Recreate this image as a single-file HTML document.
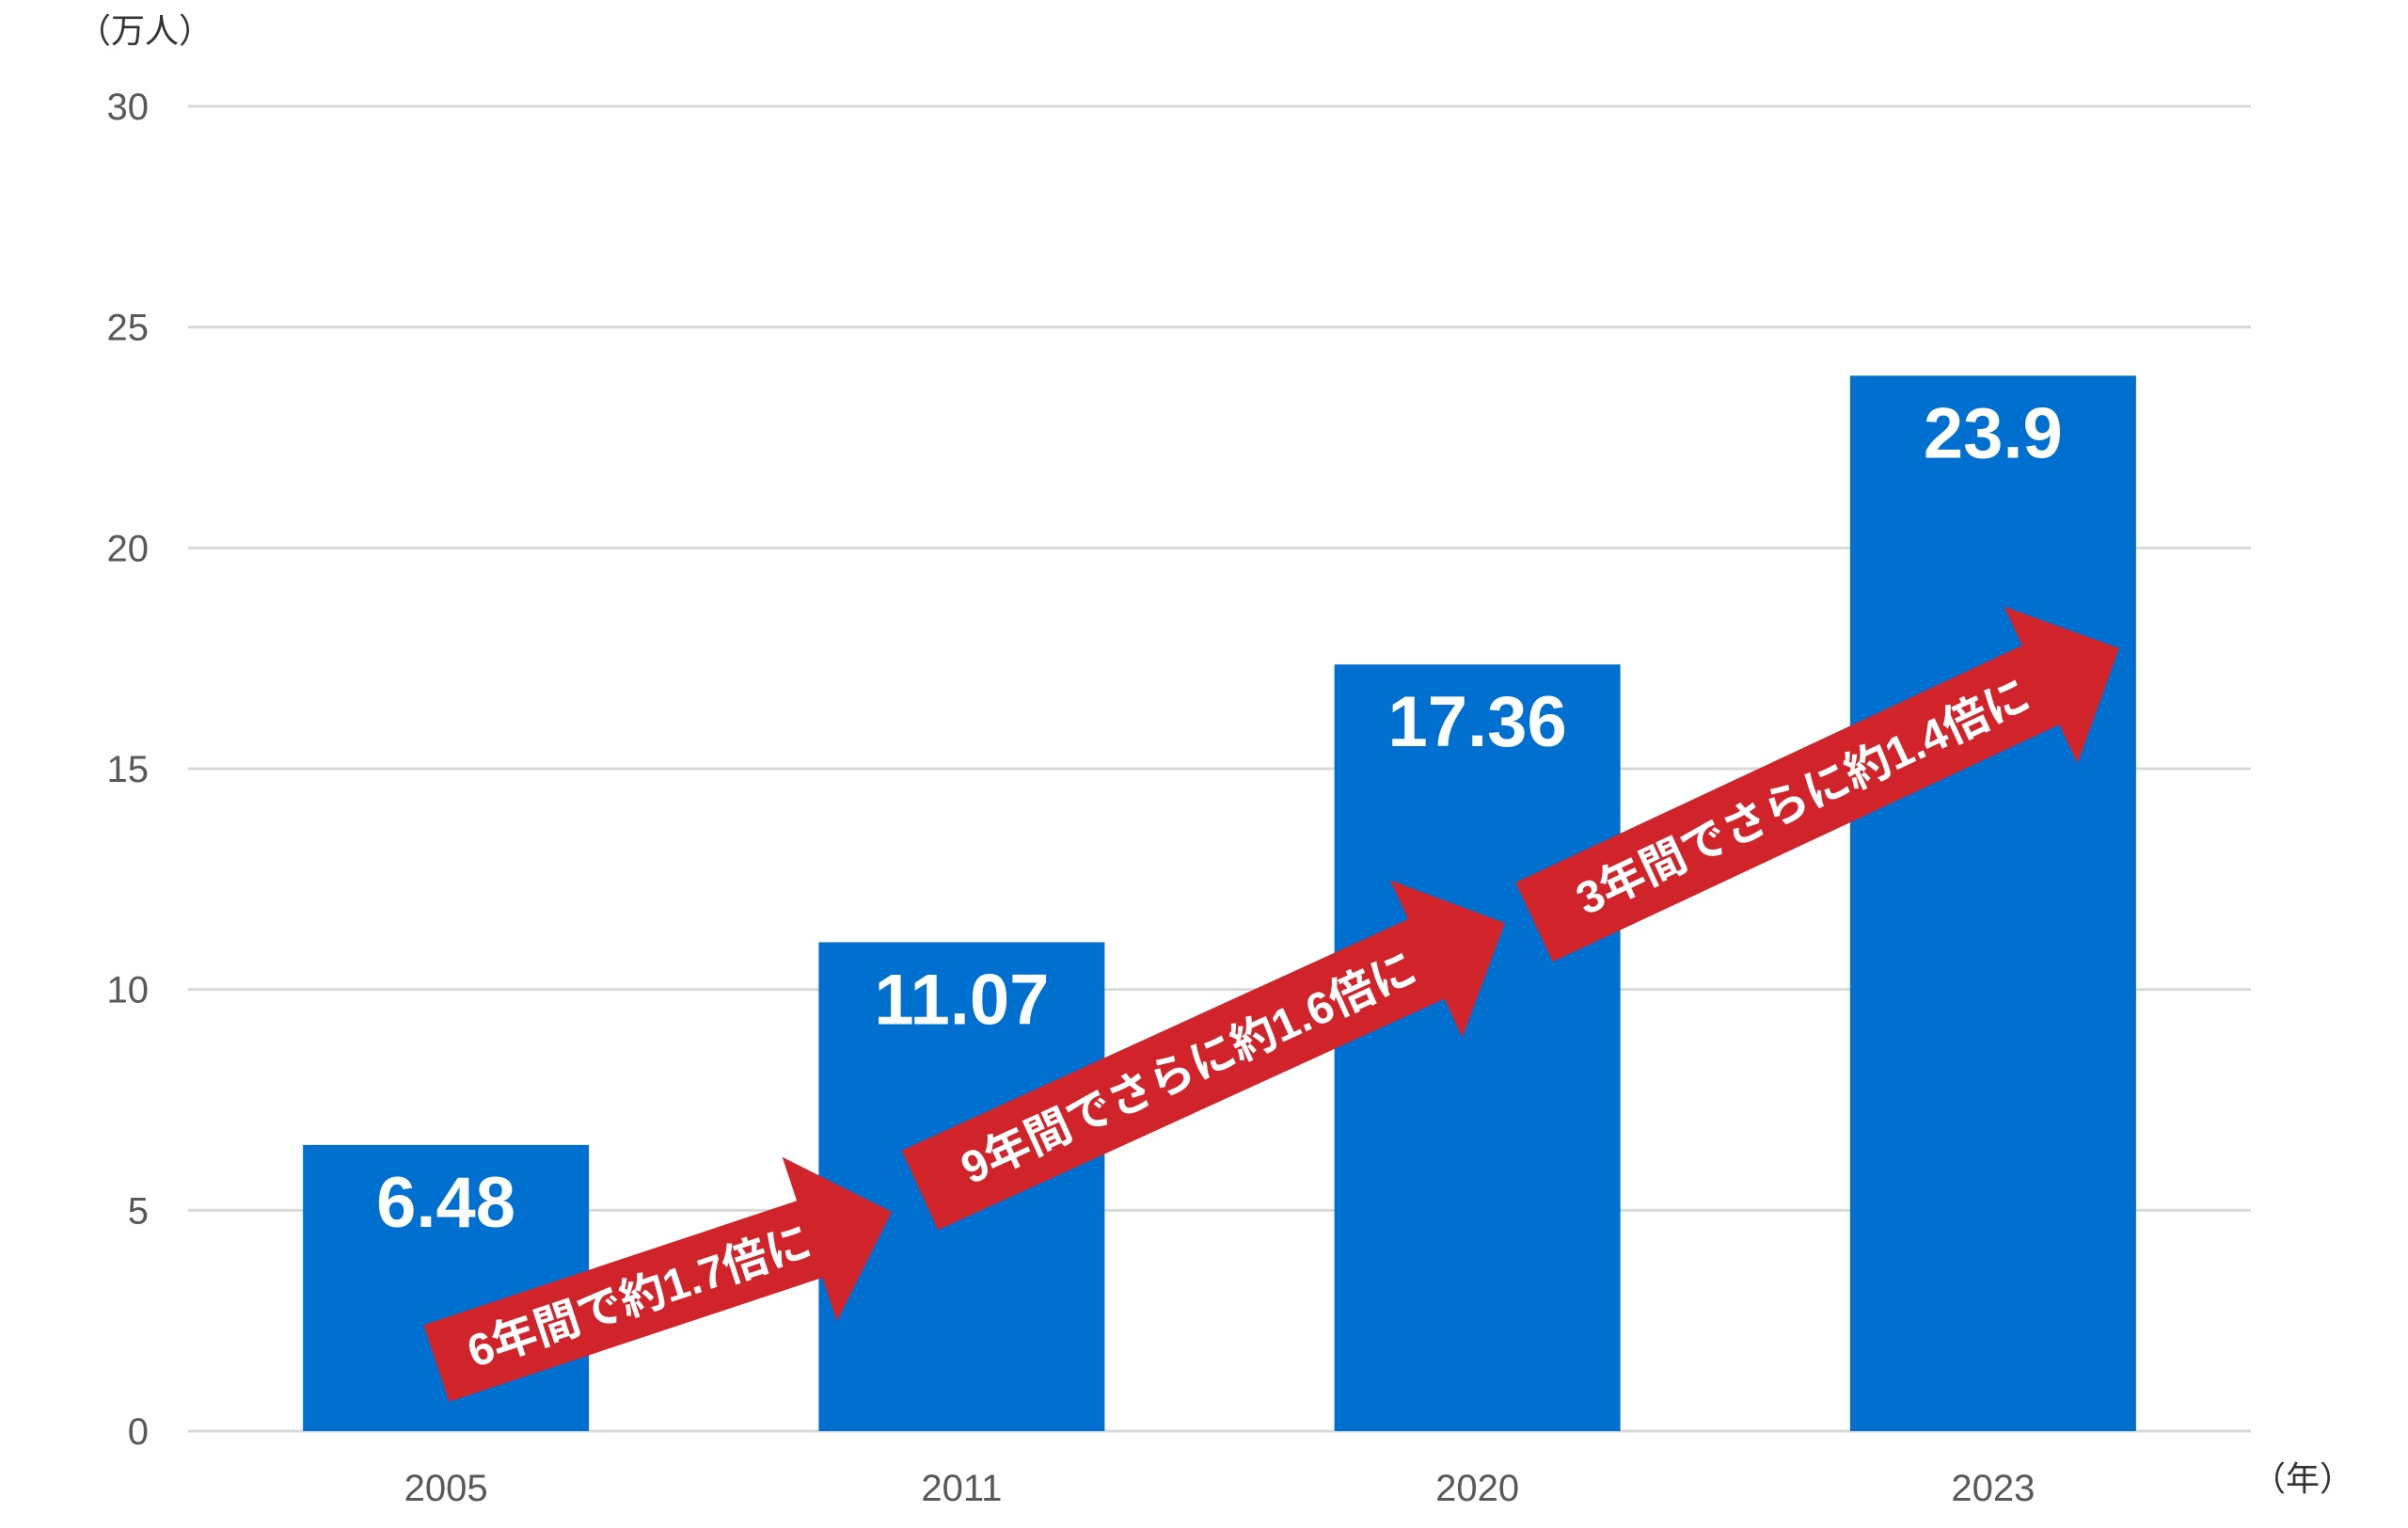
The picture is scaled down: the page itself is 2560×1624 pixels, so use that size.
<!DOCTYPE html>
<html><head><meta charset="utf-8"><style>
html,body{margin:0;padding:0;background:#fff;}
svg{display:block;font-family:"Liberation Sans","Noto Sans CJK JP",sans-serif;}
</style></head><body>
<svg id="chart" width="2560" height="1624" viewBox="0 0 2560 1624" xmlns="http://www.w3.org/2000/svg">
<text x="82" y="45" font-size="36" fill="#333" font-family="Liberation Sans, Noto Sans CJK JP, sans-serif">（万人）</text>
<text x="2394" y="1584" font-size="36" fill="#333">（年）</text>
<g id="grid"></g>
<g id="bars"></g>
<g id="arrows"></g>
</svg>
<script>
const categories = ["2005","2011","2020","2023"];
const values = [6.48, 11.07, 17.36, 23.9];
const valueLabels = ["6.48","11.07","17.36","23.9"];
const yTicks = [0,5,10,15,20,25,30];
const arrowTexts = ["6年間で約1.7倍に","9年間でさらに約1.6倍に","3年間でさらに約1.4倍に"];
const arrowFrom = [[464,1449],[978,1265],[1631,980]];
const arrowTo = [[948,1288],[1600,981],[2253,689]];

const NS="http://www.w3.org/2000/svg";
const plotL=200, plotR=2393, y0=1521, y30=113, yMax=30;
const band=(plotR-plotL)/categories.length, barW=304;
const y=v=>y0-(v/yMax)*(y0-y30);
const xc=i=>plotL+band*(i+0.5);
function mk(tag,attrs,parent){const e=document.createElementNS(NS,tag);for(const k in attrs)e.setAttribute(k,attrs[k]);parent.appendChild(e);return e;}
const grid=document.getElementById('grid'), bars=document.getElementById('bars'), arrows=document.getElementById('arrows');
yTicks.forEach(t=>{
  const l=mk('line',{x1:plotL,x2:plotR,y1:y(t),y2:y(t),stroke:'#d9d9d9','stroke-width':3},grid);
  
  
  const tx=mk('text',{x:158,y:y(t)+14,'text-anchor':'end','font-size':40,fill:'#595959'},grid);
  tx.textContent=t;
  
  
});
categories.forEach((c,i)=>{
  const r=mk('rect',{x:xc(i)-barW/2,y:y(values[i]),width:barW,height:y0-y(values[i]),fill:'#0070d0'},bars);
  
  
  const v=mk('text',{x:xc(i),y:y(values[i])+87,'text-anchor':'middle','font-size':76,'font-weight':'bold',fill:'#fff'},bars);
  v.textContent=valueLabels[i];
  
  
  const xl=mk('text',{x:xc(i),y:1595,'text-anchor':'middle','font-size':40,fill:'#595959'},bars);
  xl.textContent=c;
  
  
});
arrowTexts.forEach((t,i)=>{
  const [ax,ay]=arrowFrom[i],[bx,by]=arrowTo[i];
  const L=Math.hypot(bx-ax,by-ay), ang=Math.atan2(by-ay,bx-ax)*180/Math.PI;
  const sw=i==0?86:93, hw=184, hl=92;
  const g=mk('g',{transform:`translate(${ax},${ay}) rotate(${ang})`},arrows);
  
  
  const pts=[[0,-sw/2],[L-hl,-sw/2],[L-hl,-hw/2],[L,0],[L-hl,hw/2],[L-hl,sw/2],[0,sw/2]].map(p=>p.join(',')).join(' ');
  mk('polygon',{points:pts,fill:'#d0232a'},g);
  const tx=mk('text',{x:(L-hl)/2+18,y:17,'text-anchor':'middle','font-size':48,'font-weight':'bold',fill:'#fff'},g);
  tx.textContent=t;
  
  
});
</script>
</body></html>
